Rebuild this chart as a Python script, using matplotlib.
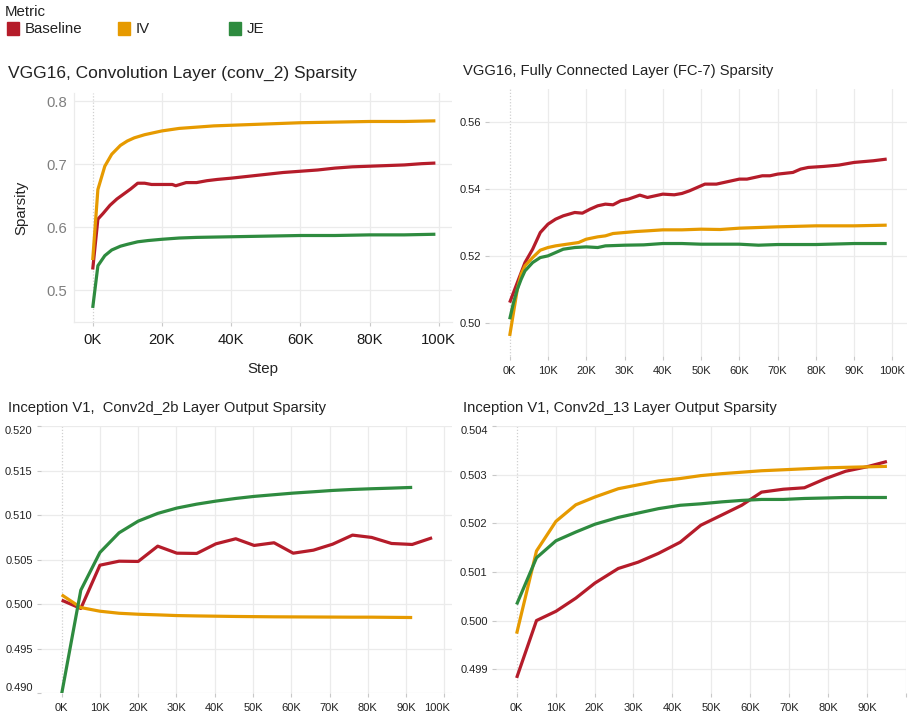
import matplotlib
matplotlib.use("Agg")
import matplotlib.pyplot as plt
from matplotlib.ticker import FuncFormatter
from matplotlib.patches import Rectangle
from matplotlib.transforms import ScaledTranslation

plt.rcParams['font.family'] = ['Liberation Sans', 'DejaVu Sans']

W, H = 908, 715

metrics = ["Baseline", "IV", "JE"]
colors = {"Baseline": "#b51c2a", "IV": "#e69a00", "JE": "#2e8b3f"}

# ---- VGG16 conv_2 sparsity (step in thousands) ----
vgg_conv_base_k = [0, 1.5, 3, 5, 7, 9, 11, 13, 15, 17, 20, 23, 24, 27, 30, 33, 36,
                   40, 45, 50, 55, 60, 65, 70, 75, 80, 85, 90, 95, 99]
vgg_conv_base = [0.533, 0.613, 0.622, 0.635, 0.645, 0.653, 0.661, 0.670, 0.670, 0.668,
                 0.668, 0.668, 0.666, 0.671, 0.671, 0.674, 0.676, 0.678, 0.681, 0.684,
                 0.687, 0.689, 0.691, 0.694, 0.696, 0.697, 0.698, 0.699, 0.701, 0.702]
vgg_conv_iv_k = [0, 1.5, 3.5, 5.5, 8, 10, 12, 15, 20, 25, 30, 35, 40, 50, 60, 70, 80, 90, 99]
vgg_conv_iv = [0.548, 0.660, 0.697, 0.716, 0.730, 0.737, 0.742, 0.747, 0.753, 0.757,
               0.759, 0.761, 0.762, 0.764, 0.766, 0.767, 0.768, 0.768, 0.769]
vgg_conv_je_k = [0, 1.5, 3.5, 5.5, 8, 10, 13, 16, 20, 25, 30, 40, 50, 60, 70, 80, 90, 99]
vgg_conv_je = [0.472, 0.539, 0.555, 0.564, 0.570, 0.573, 0.577, 0.579, 0.581, 0.583,
               0.584, 0.585, 0.586, 0.587, 0.587, 0.588, 0.588, 0.589]

# ---- VGG16 FC-7 sparsity ----
vgg_fc_base_k = [0, 2, 4, 6, 8, 10, 12, 14, 17, 19, 21, 23, 25, 27, 29, 31, 33, 34, 36, 38,
                 40, 43, 45, 47, 49, 51, 54, 56, 58, 60, 62, 64, 66, 68, 70, 74, 76, 78,
                 82, 86, 90, 95, 98.5]
vgg_fc_base = [0.506, 0.512, 0.518, 0.522, 0.527, 0.5295, 0.531, 0.532, 0.533, 0.5328,
               0.534, 0.535, 0.5355, 0.5353, 0.5365, 0.537, 0.5378, 0.5382, 0.5375, 0.538,
               0.5385, 0.5383, 0.5387, 0.5395, 0.5405, 0.5415, 0.5415, 0.542, 0.5425, 0.543,
               0.543, 0.5435, 0.544, 0.544, 0.5445, 0.545, 0.546, 0.5465, 0.5468, 0.5472,
               0.548, 0.5485, 0.549]
vgg_fc_iv_k = [0, 1, 2, 3, 4, 6, 8, 10, 12, 15, 18, 20, 23, 25, 27, 30, 33, 36, 40, 45,
               50, 55, 60, 70, 80, 90, 98.5]
vgg_fc_iv = [0.496, 0.503, 0.510, 0.5145, 0.517, 0.5195, 0.5217, 0.5225, 0.523, 0.5235,
             0.524, 0.525, 0.5257, 0.526, 0.5267, 0.527, 0.5273, 0.5275, 0.5278, 0.5278,
             0.528, 0.5279, 0.5283, 0.5287, 0.529, 0.529, 0.5292]
vgg_fc_je_k = [0, 1, 2, 3, 4, 6, 8, 10, 12, 14, 17, 20, 23, 25, 30, 35, 40, 45, 50, 55,
               60, 65, 70, 80, 90, 98.5]
vgg_fc_je = [0.501, 0.506, 0.510, 0.513, 0.5155, 0.518, 0.5195, 0.520, 0.521, 0.522,
             0.5225, 0.5227, 0.5225, 0.523, 0.5232, 0.5233, 0.5237, 0.5237, 0.5235, 0.5235,
             0.5235, 0.5232, 0.5234, 0.5234, 0.5237, 0.5237]

# ---- Inception V1 Conv2d_2b output sparsity ----
inc_2b_k = [0, 5.0, 10.0, 15.0, 20.0, 25.1, 30.1, 35.3, 40.3, 45.5, 50.3, 55.5, 60.5,
            65.8, 70.8, 76.0, 81.0, 86.2, 91.6, 96.8]
inc_2b_base = [0.50043, 0.4995, 0.50436, 0.50481, 0.50478, 0.5065, 0.50571, 0.50568,
               0.50676, 0.50733, 0.50658, 0.50688, 0.50571, 0.50605, 0.50672, 0.50774,
               0.50748, 0.5068, 0.50669, 0.50744]
inc_2b_iv = [0.50103, 0.4996, 0.49919, 0.49896, 0.49885, 0.49878, 0.4987, 0.49866,
             0.49863, 0.4986, 0.49858, 0.49856, 0.49855, 0.49854, 0.49853, 0.49852,
             0.49852, 0.4985, 0.49848]
inc_2b_je = [0.4899, 0.50155, 0.50579, 0.508, 0.50931, 0.51018, 0.51078, 0.51122,
             0.51156, 0.51186, 0.51209, 0.51228, 0.51246, 0.51261, 0.51276, 0.51287,
             0.51295, 0.51302, 0.5131]

# ---- Inception V1 Conv2d_13 output sparsity ----
inc_13_k = [0, 5.1, 10.1, 15.2, 20.1, 26.1, 31.2, 36.4, 42.0, 47.3, 52.7, 57.8, 62.9,
            68.5, 73.9, 79.4, 84.5, 89.9, 95.1]
inc_13_base = [0.49882, 0.5000, 0.50019, 0.50046, 0.50077, 0.50107, 0.5012, 0.50138,
               0.50161, 0.50196, 0.50217, 0.50237, 0.50264, 0.5027, 0.50273, 0.50292,
               0.50307, 0.50316, 0.50327]
inc_13_iv = [0.49973, 0.50143, 0.50204, 0.50238, 0.50254, 0.50271, 0.50279, 0.50287,
             0.50292, 0.50298, 0.50302, 0.50305, 0.50308, 0.5031, 0.50312, 0.50314,
             0.50315, 0.50316, 0.50317]
inc_13_je = [0.50033, 0.50129, 0.50164, 0.50182, 0.50198, 0.50212, 0.50221, 0.5023,
             0.50237, 0.5024, 0.50244, 0.50247, 0.50249, 0.50249, 0.50251, 0.50252,
             0.50253, 0.50253, 0.50253]

titles = ["VGG16, Convolution Layer (conv_2) Sparsity",
          "VGG16, Fully Connected Layer (FC-7) Sparsity",
          "Inception V1,  Conv2d_2b Layer Output Sparsity",
          "Inception V1, Conv2d_13 Layer Output Sparsity"]

fig = plt.figure(figsize=(W / 100, H / 100), dpi=100)


def rect(l, t, r, b):
    return [l / W, 1 - b / H, (r - l) / W, (b - t) / H]


def kfmt(v, _):
    return f"{int(round(v / 1000))}K"


GRID = "#ebebeb"
LW = 2.3


def style(ax, xticks, yticks, xlim, ylim, yfmt, lab_size, ycolor, ytick_len):
    ax.set_xlim(*xlim)
    ax.set_ylim(*ylim)
    ax.set_xticks(xticks)
    ax.set_yticks(yticks)
    ax.xaxis.set_major_formatter(FuncFormatter(kfmt))
    ax.yaxis.set_major_formatter(FuncFormatter(lambda v, _: yfmt.format(v)))
    for s in ax.spines.values():
        s.set_visible(False)
    ax.grid(True, color=GRID, lw=0.9)
    ax.set_axisbelow(True)
    ax.tick_params(axis="x", length=3, width=0.8, color="#c8c8c8", pad=4,
                   labelsize=lab_size, labelcolor="#222222")
    ax.tick_params(axis="y", length=ytick_len, width=0.8, color="#c8c8c8", pad=3,
                   labelsize=lab_size, labelcolor=ycolor)
    # the zero-step gridline is dotted
    for g, t in zip(ax.get_xgridlines(), xticks):
        if t == 0:
            g.set_linestyle((0, (1, 1.5)))
            g.set_color("#d0d0d0")


def draw(ax, series):
    for name, xs, ys in series:
        ax.plot([x * 1000 for x in xs], ys, color=colors[name], lw=LW,
                solid_joinstyle="round", solid_capstyle="butt")


# Panel 1
ax1 = fig.add_axes(rect(74, 93, 452, 322))
draw(ax1, [("Baseline", vgg_conv_base_k, vgg_conv_base),
           ("IV", vgg_conv_iv_k, vgg_conv_iv),
           ("JE", vgg_conv_je_k, vgg_conv_je)])
style(ax1, [0, 20000, 40000, 60000, 80000, 100000], [0.5, 0.6, 0.7, 0.8],
      (-5400, 103800), (0.4497, 0.8132), "{:.1f}", 10.7, "#7f7f7f", 0)
ax1.tick_params(axis="y", pad=5)
ax1.tick_params(axis="x", pad=5, labelcolor="#1a1a1a")
ax1.set_ylabel("Sparsity", fontsize=10.8, color="#222222", labelpad=13)
ax1.set_xlabel("Step", fontsize=10.8, color="#222222", labelpad=11)
for side in ("left", "bottom"):
    ax1.spines[side].set_visible(True)
    ax1.spines[side].set_color(GRID)
    ax1.spines[side].set_linewidth(0.9)

# Panel 2
ax2 = fig.add_axes(rect(489, 89, 907, 356))
draw(ax2, [("Baseline", vgg_fc_base_k, vgg_fc_base),
           ("IV", vgg_fc_iv_k, vgg_fc_iv),
           ("JE", vgg_fc_je_k, vgg_fc_je)])
style(ax2, [i * 10000 for i in range(11)], [0.50, 0.52, 0.54, 0.56],
      (-5400, 103800), (0.49, 0.570), "{:.2f}", 8, "#222222", 3)

# Panel 3
ax3 = fig.add_axes(rect(41, 426, 452, 693))
draw(ax3, [("Baseline", inc_2b_k, inc_2b_base),
           ("IV", inc_2b_k[:len(inc_2b_iv)], inc_2b_iv),
           ("JE", inc_2b_k[:len(inc_2b_je)], inc_2b_je)])
style(ax3, [i * 10000 for i in range(11)],
      [0.490, 0.495, 0.500, 0.505, 0.510, 0.515, 0.520],
      (-5400, 102000), (0.490, 0.520), "{:.3f}", 8, "#222222", 3)

# Panel 4
ax4 = fig.add_axes(rect(496, 426, 906, 693))
draw(ax4, [("Baseline", inc_13_k, inc_13_base),
           ("IV", inc_13_k, inc_13_iv),
           ("JE", inc_13_k, inc_13_je)])
style(ax4, [i * 10000 for i in range(11)],
      [0.499, 0.500, 0.501, 0.502, 0.503, 0.504],
      (-5300, 100000), (0.49851, 0.504), "{:.3f}", 8, "#222222", 3)

# flush end labels inside the axis range
fig.canvas.draw()
for lbl in ax3.get_yticklabels():
    if lbl.get_text() == "0.520":
        lbl.set_va("top")
    if lbl.get_text() == "0.490":
        lbl.set_va("bottom")
for lbl in ax3.get_xticklabels():
    if lbl.get_text() == "100K":
        lbl.set_ha("right")
        lbl.set_transform(lbl.get_transform()
                          + ScaledTranslation(6 / 100, 0, fig.dpi_scale_trans))
for lbl in ax4.get_yticklabels():
    if lbl.get_text() == "0.504":
        lbl.set_va("top")
for lbl in ax4.get_xticklabels():
    if lbl.get_text() == "100K":
        lbl.set_visible(False)

# titles
fig.text(8 / W, 1 - 77.5 / H, titles[0], fontsize=12.5, color="#222222", va="baseline")
fig.text(463 / W, 1 - 75.5 / H, titles[1], fontsize=10.6, color="#222222", va="baseline")
fig.text(8 / W, 1 - 412.5 / H, titles[2], fontsize=10.6, color="#222222", va="baseline")
fig.text(463 / W, 1 - 412.5 / H, titles[3], fontsize=10.6, color="#222222", va="baseline")

# legend
fig.text(5 / W, 1 - 15.7 / H, "Metric", fontsize=10.8, color="#222222", va="baseline")
leg_x = [7, 118, 229]
for name, lx in zip(metrics, leg_x):
    fig.patches.append(Rectangle((lx / W, 1 - 34.5 / H), 12 / W, 12 / H,
                                 transform=fig.transFigure, color=colors[name]))
    fig.text((lx + 18) / W, 1 - 33.3 / H, name, fontsize=10.8, color="#222222",
             va="baseline")

fig.savefig("out.png", dpi=100)
